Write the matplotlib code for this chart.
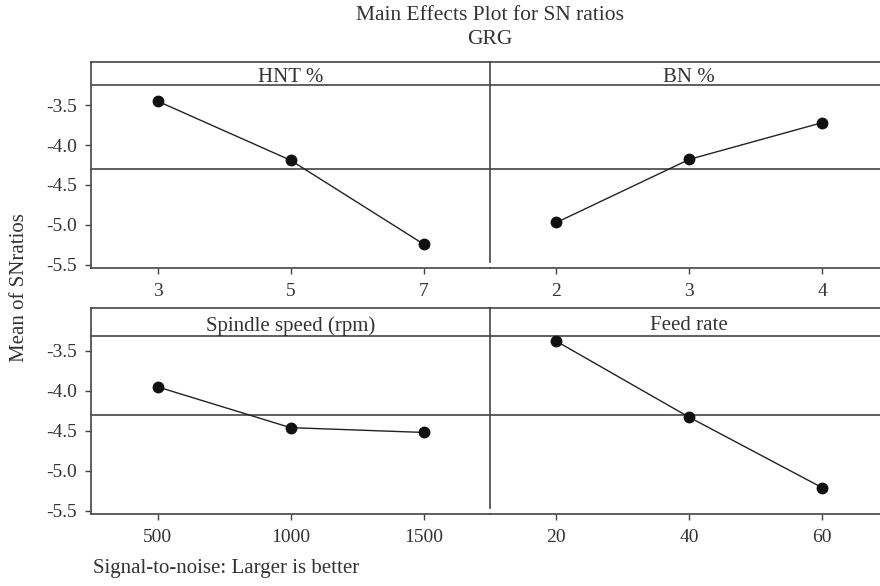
import matplotlib
matplotlib.use("Agg")
import matplotlib.pyplot as plt

plt.rcParams['font.family'] = ['Liberation Serif', 'DejaVu Serif']

title = "Main Effects Plot for SN ratios"
subtitle = "GRG"
ylabel = "Mean of SNratios"
footer = "Signal-to-noise: Larger is better"

factors = ["HNT %", "BN %", "Spindle speed (rpm)", "Feed rate"]
levels = [[3, 5, 7], [2, 3, 4], [500, 1000, 1500], [20, 40, 60]]
means = [
    [-3.45, -4.19, -5.24],
    [-4.97, -4.18, -3.72],
    [-3.95, -4.46, -4.52],
    [-3.38, -4.33, -5.21],
]
grand_mean = -4.30
yticks = [-3.5, -4.0, -4.5, -5.0, -5.5]

W, H = 880, 586
fig = plt.figure(figsize=(W / 100, H / 100), dpi=100)

ink = "#222222"
frame = "#444444"
txt = "#333333"
ylim = (-5.54, -2.96)
strip_lines = [-3.25, -3.31]

# pixel geometry (top, bottom) for rows and (left, right) for columns
rows_px = [(62, 268), (307.7, 514)]
cols_px = [(91, 490), (490, 888.5)]

for r, (top, bot) in enumerate(rows_px):
    for c, (lft, rgt) in enumerate(cols_px):
        i = r * 2 + c
        ax = fig.add_axes([lft / W, (H - bot) / H, (rgt - lft) / W, (bot - top) / H])
        lv = levels[i]
        step = lv[1] - lv[0]
        ax.plot(lv, means[i], color=ink, lw=1.0, marker='o', ms=7.5,
                mfc='#111111', mec='#111111', zorder=3)
        ax.set_xlim(lv[0] - step / 2, lv[-1] + step / 2)
        ax.set_ylim(*ylim)
        ax.axhline(grand_mean, color=frame, lw=1.2, zorder=1)
        ax.axhline(strip_lines[r], color=frame, lw=1.2, zorder=1)
        ax.text((lv[0] + lv[-1]) / 2, (strip_lines[r] + ylim[1]) / 2 - 0.02, factors[i],
                ha='center', va='center_baseline', fontsize=15, color=txt)
        ax.set_xticks(lv)
        ax.set_xticklabels([str(v) for v in lv])
        for s in ['top', 'bottom', 'left', 'right']:
            ax.spines[s].set_color(frame)
            ax.spines[s].set_linewidth(1.2)
        ax.spines['right'].set_visible(False)
        ax.tick_params(axis='x', direction='out', length=4, width=1, color=frame,
                       labelsize=14, labelcolor=txt, pad=7)
        if c == 0:
            ax.set_yticks(yticks)
            ax.set_yticklabels([f"{v:.1f}" for v in yticks])
            ax.tick_params(axis='y', direction='out', length=4, width=1, color=frame,
                           labelsize=14, labelcolor=txt, pad=6)
        else:
            ax.set_yticks([])
            ax.spines['left'].set_bounds(ylim[0] + 0.08, ylim[1])
        ax.patch.set_alpha(0)

fig.text(490 / W, 1 - 15 / H, title, ha='center', va='center', fontsize=15.5, color=txt)
fig.text(490 / W, 1 - 40 / H, subtitle, ha='center', va='center', fontsize=15.5, color=txt)
fig.text(20 / W, 1 - 288 / H, ylabel, ha='center', va='center', rotation=90,
         fontsize=15, color=txt)
fig.text(93 / W, 1 - 569 / H, footer, ha='left', va='center', fontsize=15, color=txt)

fig.savefig("out.png", dpi=100)
